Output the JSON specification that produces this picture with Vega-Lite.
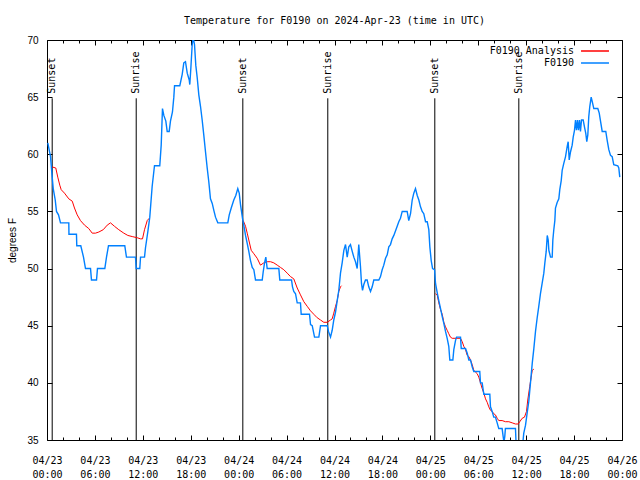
{
  "$schema": "https://vega.github.io/schema/vega-lite/v6.json",
  "width": 575,
  "height": 400,
  "autosize": {"type": "none"},
  "padding": {"left": 47, "top": 40, "right": 18, "bottom": 40},
  "background": "white",
  "title": {"text": "Temperature for F0190 on 2024-Apr-23 (time in UTC)", "font": "DejaVu Sans Mono", "fontSize": 10, "fontWeight": "normal", "color": "black", "offset": 9, "anchor": "middle"},
  "config": {"view": {"stroke": "black", "strokeWidth": 1}},
  "datasets": {
    "sun": [
      {"hour": 0.65, "event": "Sunset"},
      {"hour": 11.17, "event": "Sunrise"},
      {"hour": 24.52, "event": "Sunset"},
      {"hour": 35.16, "event": "Sunrise"},
      {"hour": 48.56, "event": "Sunset"},
      {"hour": 59.08, "event": "Sunrise"}
    ],
    "ana": [
      {"hour":0.6,"temp":58.9,"seg":1},{"hour":1.1,"temp":58.8,"seg":1},{"hour":1.35,"temp":58.0,"seg":1},{"hour":1.6,"temp":57.3,"seg":1},{"hour":1.78,"temp":56.9,"seg":1},{"hour":2.19,"temp":56.6,"seg":1},{"hour":2.73,"temp":56.1,"seg":1},{"hour":3.16,"temp":55.9,"seg":1},{"hour":3.44,"temp":55.3,"seg":1},{"hour":3.78,"temp":54.7,"seg":1},{"hour":4.19,"temp":54.2,"seg":1},{"hour":4.7,"temp":53.8,"seg":1},{"hour":5.23,"temp":53.5,"seg":1},{"hour":5.66,"temp":53.1,"seg":1},{"hour":6.07,"temp":53.1,"seg":1},{"hour":6.49,"temp":53.2,"seg":1},{"hour":7.04,"temp":53.4,"seg":1},{"hour":7.54,"temp":53.8,"seg":1},{"hour":7.95,"temp":54.0,"seg":1},{"hour":8.45,"temp":53.7,"seg":1},{"hour":8.99,"temp":53.4,"seg":1},{"hour":9.62,"temp":53.1,"seg":1},{"hour":10.12,"temp":52.9,"seg":1},{"hour":10.67,"temp":52.8,"seg":1},{"hour":11.29,"temp":52.7,"seg":1},{"hour":11.71,"temp":52.6,"seg":1},{"hour":11.96,"temp":52.6,"seg":1},{"hour":12.21,"temp":53.4,"seg":1},{"hour":12.55,"temp":54.2,"seg":1},{"hour":12.8,"temp":54.4,"seg":1},
      {"hour":24.57,"temp":54.2,"seg":2},{"hour":24.86,"temp":53.7,"seg":2},{"hour":25.07,"temp":53.1,"seg":2},{"hour":25.27,"temp":52.5,"seg":2},{"hour":25.57,"temp":51.6,"seg":2},{"hour":25.9,"temp":51.3,"seg":2},{"hour":26.32,"temp":50.9,"seg":2},{"hour":26.73,"temp":50.3,"seg":2},{"hour":27.15,"temp":50.5,"seg":2},{"hour":27.57,"temp":50.6,"seg":2},{"hour":27.99,"temp":50.6,"seg":2},{"hour":28.4,"temp":50.5,"seg":2},{"hour":28.83,"temp":50.3,"seg":2},{"hour":29.24,"temp":50.1,"seg":2},{"hour":29.65,"temp":49.9,"seg":2},{"hour":30.08,"temp":49.6,"seg":2},{"hour":30.49,"temp":49.3,"seg":2},{"hour":30.9,"temp":49.1,"seg":2},{"hour":31.33,"temp":48.3,"seg":2},{"hour":31.74,"temp":47.7,"seg":2},{"hour":32.16,"temp":47.1,"seg":2},{"hour":32.58,"temp":46.7,"seg":2},{"hour":33.0,"temp":46.3,"seg":2},{"hour":33.41,"temp":46.0,"seg":2},{"hour":33.83,"temp":45.7,"seg":2},{"hour":34.25,"temp":45.5,"seg":2},{"hour":34.66,"temp":45.3,"seg":2},{"hour":35.09,"temp":45.3,"seg":2},{"hour":35.5,"temp":45.5,"seg":2},{"hour":35.71,"temp":45.6,"seg":2},{"hour":35.91,"temp":46.1,"seg":2},{"hour":36.13,"temp":46.7,"seg":2},{"hour":36.34,"temp":47.2,"seg":2},{"hour":36.54,"temp":48.0,"seg":2},{"hour":36.75,"temp":48.4,"seg":2},{"hour":36.88,"temp":48.5,"seg":2},
      {"hour":48.65,"temp":47.8,"seg":3},{"hour":48.86,"temp":47.7,"seg":3},{"hour":49.06,"temp":47.0,"seg":3},{"hour":49.28,"temp":46.4,"seg":3},{"hour":49.49,"temp":46.0,"seg":3},{"hour":49.69,"temp":45.3,"seg":3},{"hour":49.9,"temp":44.9,"seg":3},{"hour":50.11,"temp":44.6,"seg":3},{"hour":50.31,"temp":44.3,"seg":3},{"hour":50.52,"temp":44.0,"seg":3},{"hour":50.74,"temp":43.9,"seg":3},{"hour":51.78,"temp":43.9,"seg":3},{"hour":51.99,"temp":43.6,"seg":3},{"hour":52.19,"temp":43.2,"seg":3},{"hour":52.41,"temp":42.9,"seg":3},{"hour":52.62,"temp":42.4,"seg":3},{"hour":52.82,"temp":42.3,"seg":3},{"hour":53.03,"temp":42.0,"seg":3},{"hour":53.24,"temp":41.6,"seg":3},{"hour":53.44,"temp":41.1,"seg":3},{"hour":53.87,"temp":40.8,"seg":3},{"hour":54.07,"temp":40.5,"seg":3},{"hour":54.28,"temp":40.0,"seg":3},{"hour":54.49,"temp":39.5,"seg":3},{"hour":54.7,"temp":39.1,"seg":3},{"hour":54.91,"temp":38.6,"seg":3},{"hour":55.12,"temp":38.3,"seg":3},{"hour":55.32,"temp":37.9,"seg":3},{"hour":55.53,"temp":37.6,"seg":3},{"hour":55.74,"temp":37.5,"seg":3},{"hour":55.94,"temp":37.3,"seg":3},{"hour":56.15,"temp":37.2,"seg":3},{"hour":56.37,"temp":36.9,"seg":3},{"hour":56.57,"temp":36.7,"seg":3},{"hour":56.99,"temp":36.7,"seg":3},{"hour":57.41,"temp":36.6,"seg":3},{"hour":57.83,"temp":36.6,"seg":3},{"hour":58.25,"temp":36.5,"seg":3},{"hour":58.66,"temp":36.4,"seg":3},{"hour":59.0,"temp":36.4,"seg":3},{"hour":59.2,"temp":36.6,"seg":3},{"hour":59.5,"temp":36.9,"seg":3},{"hour":59.79,"temp":37.0,"seg":3},{"hour":60.04,"temp":37.5,"seg":3},{"hour":60.2,"temp":38.5,"seg":3},{"hour":60.45,"temp":39.7,"seg":3},{"hour":60.63,"temp":40.5,"seg":3},{"hour":60.76,"temp":41.1,"seg":3},{"hour":60.96,"temp":41.2,"seg":3}
    ],
    "obs": [
      {"hour":0.1,"temp":61.0},{"hour":0.44,"temp":59.8},{"hour":0.65,"temp":58.0},{"hour":0.78,"temp":57.0},{"hour":1.03,"temp":56.0},{"hour":1.19,"temp":55.0},{"hour":1.44,"temp":54.7},{"hour":1.69,"temp":54.0},{"hour":2.73,"temp":54.0},{"hour":2.75,"temp":53.0},{"hour":3.69,"temp":53.0},{"hour":3.73,"temp":52.0},{"hour":4.23,"temp":52.0},{"hour":4.57,"temp":51.0},{"hour":4.82,"temp":50.0},{"hour":5.45,"temp":50.0},{"hour":5.57,"temp":49.0},{"hour":6.2,"temp":49.0},{"hour":6.32,"temp":50.0},{"hour":7.24,"temp":50.0},{"hour":7.45,"temp":51.0},{"hour":7.7,"temp":52.0},{"hour":9.74,"temp":52.0},{"hour":9.95,"temp":51.0},{"hour":11.08,"temp":51.0},{"hour":11.17,"temp":50.0},{"hour":11.62,"temp":50.0},{"hour":11.71,"temp":51.0},{"hour":12.21,"temp":51.0},{"hour":12.33,"temp":51.8},{"hour":12.62,"temp":53.2},{"hour":12.87,"temp":54.5},{"hour":13.17,"temp":57.2},{"hour":13.46,"temp":59.0},{"hour":14.12,"temp":59.0},{"hour":14.3,"temp":60.8},{"hour":14.46,"temp":64.0},{"hour":14.63,"temp":63.4},{"hour":14.88,"temp":62.9},{"hour":15.05,"temp":62.0},{"hour":15.3,"temp":62.0},{"hour":15.46,"temp":62.9},{"hour":15.71,"temp":63.7},{"hour":15.88,"temp":65.0},{"hour":15.97,"temp":66.0},{"hour":16.63,"temp":66.0},{"hour":16.93,"temp":67.0},{"hour":17.13,"temp":68.0},{"hour":17.34,"temp":68.1},{"hour":17.56,"temp":67.1},{"hour":17.81,"temp":66.5},{"hour":17.88,"temp":66.1},{"hour":18.01,"temp":67.5},{"hour":18.18,"temp":69.6},{"hour":18.31,"temp":70.2},{"hour":18.47,"temp":69.6},{"hour":18.63,"temp":67.8},{"hour":18.81,"temp":66.7},{"hour":19.01,"temp":65.2},{"hour":19.22,"temp":64.2},{"hour":19.43,"temp":63.0},{"hour":19.63,"temp":61.7},{"hour":19.85,"temp":60.2},{"hour":20.06,"temp":58.8},{"hour":20.26,"temp":57.6},{"hour":20.47,"temp":56.1},{"hour":20.69,"temp":55.7},{"hour":20.89,"temp":55.1},{"hour":21.1,"temp":54.5},{"hour":21.39,"temp":54.0},{"hour":22.64,"temp":54.0},{"hour":22.82,"temp":54.7},{"hour":23.07,"temp":55.3},{"hour":23.39,"temp":56.0},{"hour":23.64,"temp":56.4},{"hour":23.89,"temp":57.0},{"hour":24.07,"temp":56.6},{"hour":24.23,"temp":55.6},{"hour":24.48,"temp":54.4},{"hour":24.64,"temp":53.8},{"hour":24.86,"temp":52.9},{"hour":25.07,"temp":52.2},{"hour":25.27,"temp":51.5},{"hour":25.48,"temp":50.7},{"hour":25.7,"temp":50.1},{"hour":25.9,"temp":49.9},{"hour":26.11,"temp":49.0},{"hour":26.95,"temp":49.0},{"hour":27.07,"temp":49.7},{"hour":27.24,"temp":50.5},{"hour":27.4,"temp":51.0},{"hour":27.57,"temp":50.0},{"hour":29.03,"temp":50.0},{"hour":29.15,"temp":49.0},{"hour":30.62,"temp":49.0},{"hour":30.74,"temp":48.4},{"hour":30.9,"temp":48.0},{"hour":31.12,"temp":47.8},{"hour":31.33,"temp":47.0},{"hour":31.74,"temp":47.0},{"hour":31.83,"temp":46.0},{"hour":32.87,"temp":46.0},{"hour":33.0,"temp":45.1},{"hour":33.21,"temp":45.0},{"hour":33.5,"temp":44.0},{"hour":34.04,"temp":44.0},{"hour":34.25,"temp":45.0},{"hour":35.09,"temp":45.0},{"hour":35.25,"temp":44.5},{"hour":35.5,"temp":44.0},{"hour":35.71,"temp":44.6},{"hour":35.91,"temp":45.5},{"hour":36.13,"temp":46.2},{"hour":36.34,"temp":47.2},{"hour":36.54,"temp":48.1},{"hour":36.75,"temp":49.6},{"hour":36.96,"temp":50.5},{"hour":37.17,"temp":51.6},{"hour":37.38,"temp":52.1},{"hour":37.59,"temp":51.0},{"hour":37.79,"temp":51.9},{"hour":38.0,"temp":52.1},{"hour":38.22,"temp":51.5},{"hour":38.42,"temp":51.0},{"hour":38.63,"temp":50.6},{"hour":38.84,"temp":50.0},{"hour":39.04,"temp":52.1},{"hour":39.25,"temp":50.2},{"hour":39.38,"temp":48.7},{"hour":39.51,"temp":48.1},{"hour":39.67,"temp":48.6},{"hour":39.88,"temp":49.0},{"hour":40.09,"temp":49.0},{"hour":40.29,"temp":48.4},{"hour":40.51,"temp":48.0},{"hour":40.72,"temp":48.4},{"hour":40.92,"temp":49.0},{"hour":41.55,"temp":49.0},{"hour":41.76,"temp":49.3},{"hour":41.97,"temp":49.9},{"hour":42.17,"temp":50.3},{"hour":42.39,"temp":50.9},{"hour":42.6,"temp":51.2},{"hour":42.8,"temp":51.9},{"hour":43.01,"temp":52.1},{"hour":43.22,"temp":52.6},{"hour":43.43,"temp":52.9},{"hour":43.85,"temp":53.7},{"hour":44.05,"temp":54.1},{"hour":44.26,"temp":54.4},{"hour":44.48,"temp":55.0},{"hour":45.1,"temp":55.0},{"hour":45.3,"temp":54.2},{"hour":45.52,"temp":54.8},{"hour":45.73,"temp":56.0},{"hour":45.93,"temp":56.6},{"hour":46.14,"temp":57.0},{"hour":46.36,"temp":56.4},{"hour":46.56,"temp":56.0},{"hour":46.77,"temp":55.4},{"hour":46.98,"temp":55.0},{"hour":47.18,"temp":54.8},{"hour":47.4,"temp":54.1},{"hour":47.61,"temp":54.1},{"hour":47.81,"temp":53.4},{"hour":47.94,"temp":51.9},{"hour":48.11,"temp":50.7},{"hour":48.28,"temp":50.0},{"hour":48.53,"temp":49.9},{"hour":48.65,"temp":48.7},{"hour":48.86,"temp":47.9},{"hour":49.06,"temp":47.2},{"hour":49.28,"temp":46.5},{"hour":49.49,"temp":45.8},{"hour":49.69,"temp":45.2},{"hour":49.9,"temp":44.5},{"hour":50.11,"temp":43.9},{"hour":50.31,"temp":43.2},{"hour":50.44,"temp":42.0},{"hour":50.82,"temp":42.0},{"hour":50.94,"temp":42.9},{"hour":51.15,"temp":43.7},{"hour":51.28,"temp":44.0},{"hour":51.78,"temp":44.0},{"hour":51.87,"temp":43.0},{"hour":52.41,"temp":43.0},{"hour":52.62,"temp":42.6},{"hour":52.82,"temp":42.0},{"hour":53.03,"temp":42.0},{"hour":53.24,"temp":41.4},{"hour":53.44,"temp":41.0},{"hour":54.19,"temp":41.0},{"hour":54.28,"temp":40.0},{"hour":54.49,"temp":40.0},{"hour":54.7,"temp":39.0},{"hour":55.45,"temp":39.0},{"hour":55.53,"temp":37.9},{"hour":55.74,"temp":37.5},{"hour":55.94,"temp":37.0},{"hour":56.15,"temp":37.0},{"hour":56.37,"temp":36.5},{"hour":56.57,"temp":36.0},{"hour":56.99,"temp":36.0},{"hour":57.12,"temp":35.3},{"hour":57.22,"temp":34.8},{"hour":57.32,"temp":35.3},{"hour":57.4,"temp":36.0},{"hour":58.66,"temp":36.0},{"hour":58.75,"temp":34.5},{"hour":59.55,"temp":34.5},{"hour":59.7,"temp":35.6},{"hour":59.92,"temp":36.3},{"hour":60.13,"temp":37.4},{"hour":60.33,"temp":38.4},{"hour":60.54,"temp":40.0},{"hour":60.76,"temp":41.7},{"hour":60.96,"temp":43.0},{"hour":61.17,"temp":44.5},{"hour":61.38,"temp":45.7},{"hour":61.58,"temp":46.7},{"hour":61.79,"temp":47.8},{"hour":62.0,"temp":48.7},{"hour":62.21,"temp":49.6},{"hour":62.34,"temp":50.5},{"hour":62.51,"temp":51.5},{"hour":62.64,"temp":52.9},{"hour":62.76,"temp":52.5},{"hour":62.84,"temp":51.6},{"hour":63.05,"temp":51.0},{"hour":63.26,"temp":51.0},{"hour":63.34,"temp":52.5},{"hour":63.46,"temp":53.4},{"hour":63.59,"temp":54.2},{"hour":63.67,"temp":55.3},{"hour":63.89,"temp":55.8},{"hour":64.09,"temp":56.1},{"hour":64.21,"temp":56.9},{"hour":64.39,"temp":57.7},{"hour":64.51,"temp":58.6},{"hour":64.71,"temp":59.2},{"hour":64.93,"temp":59.8},{"hour":65.14,"temp":60.7},{"hour":65.26,"temp":61.1},{"hour":65.39,"temp":59.5},{"hour":65.55,"temp":60.2},{"hour":65.76,"temp":60.8},{"hour":65.89,"temp":61.5},{"hour":66.05,"temp":62.1},{"hour":66.18,"temp":63.0},{"hour":66.3,"temp":62.1},{"hour":66.43,"temp":63.0},{"hour":66.55,"temp":62.1},{"hour":66.68,"temp":63.0},{"hour":66.8,"temp":62.0},{"hour":66.93,"temp":63.0},{"hour":67.14,"temp":63.0},{"hour":67.3,"temp":62.4},{"hour":67.47,"temp":61.8},{"hour":67.59,"temp":61.1},{"hour":67.72,"temp":61.7},{"hour":67.84,"temp":63.3},{"hour":67.97,"temp":64.2},{"hour":68.14,"temp":65.0},{"hour":68.31,"temp":64.5},{"hour":68.47,"temp":64.0},{"hour":68.97,"temp":64.0},{"hour":69.15,"temp":63.6},{"hour":69.31,"temp":62.9},{"hour":69.52,"temp":62.0},{"hour":69.97,"temp":62.0},{"hour":70.15,"temp":61.2},{"hour":70.35,"temp":60.4},{"hour":70.56,"temp":59.9},{"hour":70.77,"temp":59.8},{"hour":70.97,"temp":59.1},{"hour":71.47,"temp":59.0},{"hour":71.6,"temp":58.8},{"hour":71.72,"temp":58.0}
    ]
  },
  "layer": [
    {
      "data": {"name": "sun"},
      "mark": {"type": "rule", "color": "black", "strokeWidth": 1},
      "encoding": {
        "x": {"field": "hour", "type": "quantitative", "scale": {"domain": [0, 72], "nice": false, "zero": false},
          "axis": {"orient": "bottom", "values": [0,2,4,6,8,10,12,14,16,18,20,22,24,26,28,30,32,34,36,38,40,42,44,46,48,50,52,54,56,58,60,62,64,66,68,70,72],
            "domain": false, "grid": false, "tickColor": "black",
            "tickSize": {"condition": {"test": "datum.value % 6 == 0", "value": -5}, "value": -3},
            "labelExpr": "datum.value % 6 == 0 ? ['04/' + (23 + floor(datum.value / 24)), (datum.value % 24 < 10 ? '0' : '') + (datum.value % 24) + ':00'] : ''",
            "labelFont": "DejaVu Sans Mono", "labelFontSize": 10, "labelColor": "black", "labelLineHeight": 14, "labelBaseline": "top",
            "labelPadding": 20, "labelFlush": false, "labelOverlap": false, "title": null}},
        "y": {"datum": 35, "type": "quantitative", "scale": {"domain": [35, 70], "nice": false, "zero": false},
          "axis": {"orient": "left", "values": [35,40,45,50,55,60,65,70], "domain": false, "grid": false, "tickColor": "black", "tickSize": -5,
            "labelFont": "Liberation Sans", "labelFontSize": 10, "labelColor": "black", "labelPadding": 14,
            "title": "degrees F", "titleFont": "Liberation Sans", "titleFontSize": 10, "titleFontWeight": "normal", "titleColor": "black", "titlePadding": 9}},
        "y2": {"datum": 64.9}
      }
    },
    {
      "data": {"name": "sun"},
      "mark": {"type": "text", "angle": 270, "align": "left", "baseline": "middle", "font": "DejaVu Sans Mono", "fontSize": 10, "color": "black"},
      "encoding": {
        "x": {"field": "hour", "type": "quantitative",
          "axis": {"orient": "top", "values": [0,2,4,6,8,10,12,14,16,18,20,22,24,26,28,30,32,34,36,38,40,42,44,46,48,50,52,54,56,58,60,62,64,66,68,70,72],
            "domain": false, "grid": false, "tickColor": "black", "labels": false, "title": null,
            "tickSize": {"condition": {"test": "datum.value % 6 == 0", "value": -5}, "value": -3}}},
        "y": {"datum": 65.3, "type": "quantitative",
          "axis": {"orient": "right", "values": [35,40,45,50,55,60,65,70], "domain": false, "grid": false, "tickColor": "black", "tickSize": -5, "labels": false, "title": null}},
        "text": {"field": "event"}
      }
    },
    {
      "data": {"name": "ana"},
      "mark": {"type": "line", "strokeWidth": 1, "clip": true},
      "encoding": {
        "x": {"field": "hour", "type": "quantitative", "axis": null},
        "y": {"field": "temp", "type": "quantitative", "axis": null},
        "detail": {"field": "seg", "type": "nominal"},
        "color": {"datum": "F0190 Analysis", "type": "nominal",
          "scale": {"domain": ["F0190 Analysis", "F0190"], "range": ["#ff0000", "#0080ff"]},
          "legend": {"orient": "none", "legendX": 541, "legendY": 4, "title": null, "symbolType": "M-2.33,0H2.33", "symbolSize": 144, "symbolStrokeWidth": 1.5,
            "labelFont": "DejaVu Sans Mono", "labelFontSize": 10, "labelColor": "black", "labelAlign": "right", "labelOffset": -28,
            "rowPadding": 0, "padding": 0}}
      }
    },
    {
      "data": {"name": "obs"},
      "mark": {"type": "line", "strokeWidth": 1.4, "clip": true},
      "encoding": {
        "x": {"field": "hour", "type": "quantitative", "axis": null},
        "y": {"field": "temp", "type": "quantitative", "axis": null},
        "color": {"datum": "F0190", "type": "nominal"}
      }
    }
  ],
  "resolve": {"axis": {"x": "independent", "y": "independent"}}
}
